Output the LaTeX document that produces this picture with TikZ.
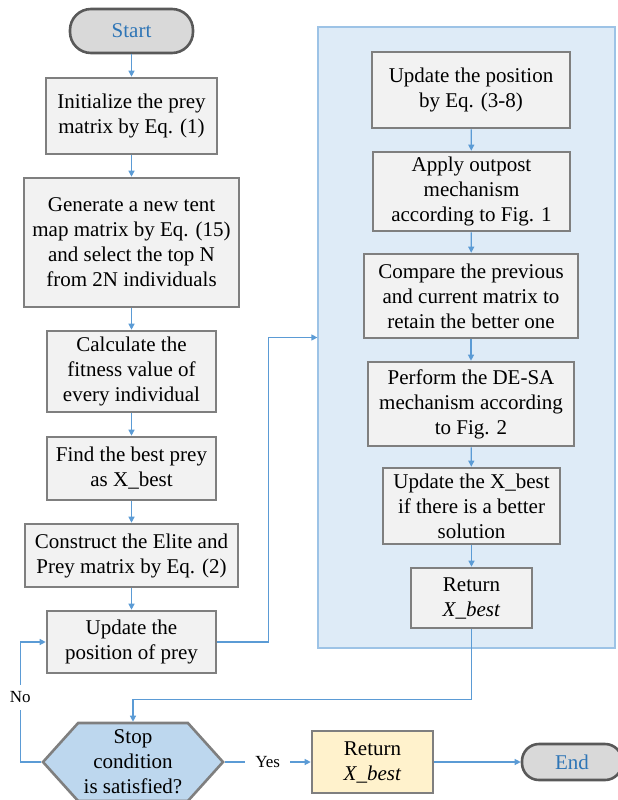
\documentclass[tikz,border=0pt]{standalone}
\usepackage{fontspec}
\setmainfont{Liberation Serif}
\usepackage{xcolor}
\usepackage{tikz}
\usetikzlibrary{positioning,arrows.meta,shapes.geometric,shapes.symbols}

\definecolor{linkblue}{HTML}{5B9BD5}
\definecolor{boxgray}{HTML}{7F7F7F}
\definecolor{boxfill}{HTML}{F2F2F2}
\definecolor{termgray}{HTML}{595959}
\definecolor{termfill}{HTML}{D9D9D9}
\definecolor{termtext}{HTML}{2E75B6}
\definecolor{panelfill}{HTML}{DEEBF7}
\definecolor{panelline}{HTML}{9DC3E6}
\definecolor{hexfill}{HTML}{BDD7EE}
\definecolor{retfill}{HTML}{FFF2CC}

\begin{document}
\begin{tikzpicture}[x=1pt, y=-1pt,
    every node/.style={font=\fontsize{21}{25}\selectfont, align=center, inner sep=1pt},
    proc/.style={draw=boxgray, fill=#1, line width=2.6pt},
    proc/.default=boxfill,
    term/.style={draw=termgray, fill=termfill, line width=2.6pt, rounded corners=#1, text=termtext},
    link/.style={draw=linkblue, line width=1.2pt, -{Triangle[length=6pt,width=6pt]}},
    lbl/.style={fill=white, font=\fontsize{17}{20}\selectfont, inner xsep=10pt, inner ysep=7pt},
]
\useasboundingbox (0,0) rectangle (618,800);

% container of the inner loop
\node[draw=panelline, fill=panelfill, line width=1.2pt, minimum width=297pt, minimum height=621pt] (panel) at (466.5,337.5) {};

% main column
\node[term=21pt, minimum width=123pt, minimum height=44pt] (start) at (131.5,31) {Start};
\node[proc, minimum width=171pt, minimum height=76pt] (init) at (131.5,116) {Initialize the prey\\matrix by Eq. (1)};
\node[proc, minimum width=215pt, minimum height=129pt] (tent) at (131.5,242.5) {Generate a new tent\\map matrix by Eq. (15)\\and select the top N\\from 2N individuals};
\node[proc, minimum width=169pt, minimum height=81pt] (fit) at (131.5,371.5) {Calculate the\\fitness value of\\every individual};
\node[proc, minimum width=169pt, minimum height=63pt] (best) at (131.5,468.5) {Find the best prey\\as X\_best};
\node[proc, minimum width=213pt, minimum height=63pt] (elite) at (131.5,555.5) {Construct the Elite and\\Prey matrix by Eq. (2)};
\node[proc, minimum width=169pt, minimum height=62pt] (upd) at (131.5,642) {Update the\\position of prey};
\node[shape=signal, signal to=east and west, signal pointer angle=96, draw=boxgray, fill=hexfill, line width=2.6pt, minimum width=180pt, minimum height=78pt] (stop) at (133,762) {Stop\\condition\\is satisfied?};
\node[proc=retfill, minimum width=121pt, minimum height=62pt] (out) at (372.5,762) {Return\\\textit{X\_best}};
\node[term=17pt, minimum width=100pt, minimum height=36pt] (finish) at (572,762) {End};

% inner loop
\node[proc, minimum width=198pt, minimum height=76pt] (pos) at (471,90) {Update the position\\by Eq. (3-8)};
\node[proc, minimum width=197pt, minimum height=79pt] (outpost) at (471.5,191.5) {Apply outpost\\mechanism\\according to Fig. 1};
\node[proc, minimum width=214pt, minimum height=84pt] (cmp) at (471,296) {Compare the previous\\and current matrix to\\retain the better one};
\node[proc, minimum width=206pt, minimum height=84pt] (desa) at (471,404) {Perform the DE-SA\\mechanism according\\to Fig. 2};
\node[proc, minimum width=177pt, minimum height=76pt] (newbest) at (471.5,506) {Update the X\_best\\if there is a better\\solution};
\node[proc, minimum width=121pt, minimum height=60pt] (ret) at (471.5,598) {Return\\\textit{X\_best}};

\draw[link] (start) -- (init);
\draw[link] (init) -- (tent);
\draw[link] (tent) -- (fit);
\draw[link] (fit) -- (best);
\draw[link] (best) -- (elite);
\draw[link] (elite) -- (upd);
\draw[link] (upd.east) -- ++(51,0) |- (panel.west);
\draw[link] (pos) -- (outpost);
\draw[link] (outpost) -- (cmp);
\draw[link] (cmp) -- (desa);
\draw[link] (desa) -- (newbest);
\draw[link] (newbest) -- (ret);
\draw[link] (ret.south) -- ++(0,70) -| (stop.north);
\draw[link] (stop.west) -- ++(-21,0) |- node[lbl, pos=0.27] {No} (upd.west);
\draw[link] (stop.east) -- node[lbl] {Yes} (out.west);
\draw[link] (out) -- (finish);
\end{tikzpicture}
\end{document}
